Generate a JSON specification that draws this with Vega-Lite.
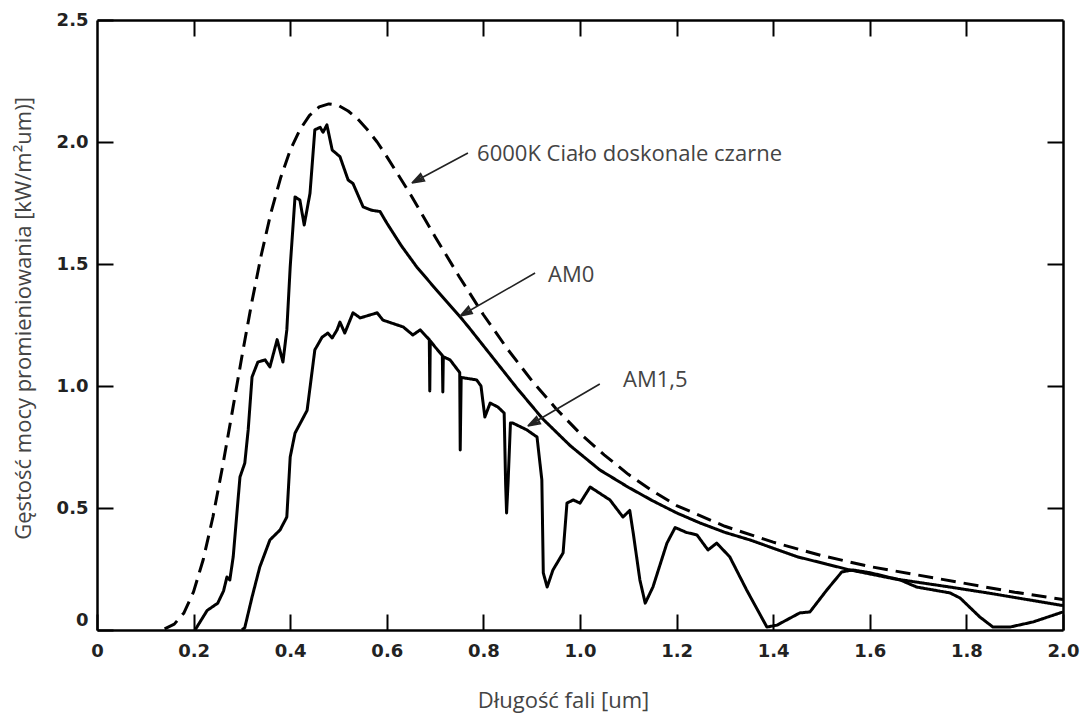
{
  "$schema": "https://vega.github.io/schema/vega-lite/v6.json",
  "width": 966,
  "height": 610,
  "autosize": {"type": "none"},
  "padding": {"left": 97, "top": 20, "right": 24, "bottom": 85},
  "background": "white",
  "config": {
    "view": {"stroke": null},
    "axis": {
      "domainColor": "black",
      "domainWidth": 2.5,
      "tickColor": "black",
      "tickWidth": 2,
      "tickSize": -16,
      "grid": false,
      "labelFont": "DejaVu Sans",
      "labelFontWeight": "bold",
      "labelFontSize": 18,
      "labelColor": "#222222",
      "titleFont": "Open Sans",
      "titleFontWeight": "normal",
      "titleFontSize": 22,
      "titleColor": "#444444"
    }
  },
  "datasets": {
    "curves": [
      {"series": "6000K", "x": 0.14, "y": 0.005},
      {"series": "6000K", "x": 0.16, "y": 0.024},
      {"series": "6000K", "x": 0.18, "y": 0.07},
      {"series": "6000K", "x": 0.2, "y": 0.157},
      {"series": "6000K", "x": 0.22, "y": 0.289},
      {"series": "6000K", "x": 0.24, "y": 0.463},
      {"series": "6000K", "x": 0.26, "y": 0.67},
      {"series": "6000K", "x": 0.28, "y": 0.894},
      {"series": "6000K", "x": 0.3, "y": 1.121},
      {"series": "6000K", "x": 0.32, "y": 1.338},
      {"series": "6000K", "x": 0.34, "y": 1.536},
      {"series": "6000K", "x": 0.36, "y": 1.709},
      {"series": "6000K", "x": 0.38, "y": 1.852},
      {"series": "6000K", "x": 0.4, "y": 1.966},
      {"series": "6000K", "x": 0.42, "y": 2.05},
      {"series": "6000K", "x": 0.44, "y": 2.109},
      {"series": "6000K", "x": 0.46, "y": 2.144},
      {"series": "6000K", "x": 0.48, "y": 2.156},
      {"series": "6000K", "x": 0.5, "y": 2.15},
      {"series": "6000K", "x": 0.52, "y": 2.127},
      {"series": "6000K", "x": 0.54, "y": 2.094},
      {"series": "6000K", "x": 0.56, "y": 2.05},
      {"series": "6000K", "x": 0.58, "y": 2.0},
      {"series": "6000K", "x": 0.6, "y": 1.94},
      {"series": "6000K", "x": 0.65, "y": 1.782},
      {"series": "6000K", "x": 0.7, "y": 1.612},
      {"series": "6000K", "x": 0.75, "y": 1.448},
      {"series": "6000K", "x": 0.8, "y": 1.292},
      {"series": "6000K", "x": 0.85, "y": 1.151},
      {"series": "6000K", "x": 0.9, "y": 1.023},
      {"series": "6000K", "x": 0.95, "y": 0.908},
      {"series": "6000K", "x": 1.0, "y": 0.806},
      {"series": "6000K", "x": 1.05, "y": 0.718},
      {"series": "6000K", "x": 1.1, "y": 0.638},
      {"series": "6000K", "x": 1.15, "y": 0.57},
      {"series": "6000K", "x": 1.2, "y": 0.51},
      {"series": "6000K", "x": 1.3, "y": 0.425},
      {"series": "6000K", "x": 1.4, "y": 0.36},
      {"series": "6000K", "x": 1.5, "y": 0.305},
      {"series": "6000K", "x": 1.6, "y": 0.26},
      {"series": "6000K", "x": 1.7, "y": 0.225},
      {"series": "6000K", "x": 1.8, "y": 0.19},
      {"series": "6000K", "x": 1.9, "y": 0.155},
      {"series": "6000K", "x": 2.0, "y": 0.125},

      {"series": "AM0", "x": 0.203, "y": 0.0},
      {"series": "AM0", "x": 0.228, "y": 0.08},
      {"series": "AM0", "x": 0.25, "y": 0.11},
      {"series": "AM0", "x": 0.262, "y": 0.16},
      {"series": "AM0", "x": 0.269, "y": 0.217},
      {"series": "AM0", "x": 0.275, "y": 0.205},
      {"series": "AM0", "x": 0.282, "y": 0.3},
      {"series": "AM0", "x": 0.296, "y": 0.627},
      {"series": "AM0", "x": 0.306, "y": 0.684},
      {"series": "AM0", "x": 0.313, "y": 0.82},
      {"series": "AM0", "x": 0.321, "y": 1.037},
      {"series": "AM0", "x": 0.333, "y": 1.098},
      {"series": "AM0", "x": 0.348, "y": 1.107},
      {"series": "AM0", "x": 0.358, "y": 1.078},
      {"series": "AM0", "x": 0.373, "y": 1.19},
      {"series": "AM0", "x": 0.385, "y": 1.098},
      {"series": "AM0", "x": 0.393, "y": 1.23},
      {"series": "AM0", "x": 0.4, "y": 1.488},
      {"series": "AM0", "x": 0.41, "y": 1.775},
      {"series": "AM0", "x": 0.42, "y": 1.762},
      {"series": "AM0", "x": 0.429, "y": 1.66},
      {"series": "AM0", "x": 0.441, "y": 1.79},
      {"series": "AM0", "x": 0.451, "y": 2.05},
      {"series": "AM0", "x": 0.462, "y": 2.06},
      {"series": "AM0", "x": 0.468, "y": 2.04},
      {"series": "AM0", "x": 0.476, "y": 2.07},
      {"series": "AM0", "x": 0.487, "y": 1.967},
      {"series": "AM0", "x": 0.503, "y": 1.94},
      {"series": "AM0", "x": 0.52, "y": 1.844},
      {"series": "AM0", "x": 0.53, "y": 1.83},
      {"series": "AM0", "x": 0.551, "y": 1.734},
      {"series": "AM0", "x": 0.569, "y": 1.72},
      {"series": "AM0", "x": 0.586, "y": 1.715},
      {"series": "AM0", "x": 0.6, "y": 1.668},
      {"series": "AM0", "x": 0.63, "y": 1.575},
      {"series": "AM0", "x": 0.662, "y": 1.488},
      {"series": "AM0", "x": 0.7, "y": 1.4},
      {"series": "AM0", "x": 0.731, "y": 1.33},
      {"series": "AM0", "x": 0.752, "y": 1.283},
      {"series": "AM0", "x": 0.77, "y": 1.24},
      {"series": "AM0", "x": 0.8, "y": 1.165},
      {"series": "AM0", "x": 0.834, "y": 1.08},
      {"series": "AM0", "x": 0.87, "y": 0.99},
      {"series": "AM0", "x": 0.923, "y": 0.865},
      {"series": "AM0", "x": 0.98, "y": 0.755},
      {"series": "AM0", "x": 1.041, "y": 0.656},
      {"series": "AM0", "x": 1.1, "y": 0.585},
      {"series": "AM0", "x": 1.15, "y": 0.53},
      {"series": "AM0", "x": 1.2, "y": 0.48},
      {"series": "AM0", "x": 1.248, "y": 0.439},
      {"series": "AM0", "x": 1.3, "y": 0.4},
      {"series": "AM0", "x": 1.352, "y": 0.369},
      {"series": "AM0", "x": 1.45, "y": 0.3},
      {"series": "AM0", "x": 1.559, "y": 0.246},
      {"series": "AM0", "x": 1.65, "y": 0.21},
      {"series": "AM0", "x": 1.766, "y": 0.176},
      {"series": "AM0", "x": 1.85, "y": 0.15},
      {"series": "AM0", "x": 2.0, "y": 0.1},

      {"series": "AM1,5", "x": 0.3, "y": 0.0},
      {"series": "AM1,5", "x": 0.306, "y": 0.01},
      {"series": "AM1,5", "x": 0.321, "y": 0.135},
      {"series": "AM1,5", "x": 0.337, "y": 0.258},
      {"series": "AM1,5", "x": 0.358, "y": 0.369},
      {"series": "AM1,5", "x": 0.379, "y": 0.41},
      {"series": "AM1,5", "x": 0.393, "y": 0.463},
      {"series": "AM1,5", "x": 0.4, "y": 0.709},
      {"series": "AM1,5", "x": 0.41, "y": 0.807},
      {"series": "AM1,5", "x": 0.435, "y": 0.9},
      {"series": "AM1,5", "x": 0.451, "y": 1.148},
      {"series": "AM1,5", "x": 0.466, "y": 1.2},
      {"series": "AM1,5", "x": 0.478, "y": 1.217},
      {"series": "AM1,5", "x": 0.487, "y": 1.197},
      {"series": "AM1,5", "x": 0.497, "y": 1.23},
      {"series": "AM1,5", "x": 0.503, "y": 1.262},
      {"series": "AM1,5", "x": 0.513, "y": 1.217},
      {"series": "AM1,5", "x": 0.53, "y": 1.3},
      {"series": "AM1,5", "x": 0.545, "y": 1.279},
      {"series": "AM1,5", "x": 0.58, "y": 1.3},
      {"series": "AM1,5", "x": 0.592, "y": 1.27},
      {"series": "AM1,5", "x": 0.634, "y": 1.242},
      {"series": "AM1,5", "x": 0.654, "y": 1.209},
      {"series": "AM1,5", "x": 0.669, "y": 1.23},
      {"series": "AM1,5", "x": 0.688, "y": 1.19},
      {"series": "AM1,5", "x": 0.689, "y": 0.98},
      {"series": "AM1,5", "x": 0.69, "y": 1.185},
      {"series": "AM1,5", "x": 0.7, "y": 1.16},
      {"series": "AM1,5", "x": 0.715, "y": 1.125},
      {"series": "AM1,5", "x": 0.716, "y": 0.975},
      {"series": "AM1,5", "x": 0.717, "y": 1.12},
      {"series": "AM1,5", "x": 0.731, "y": 1.107},
      {"series": "AM1,5", "x": 0.751, "y": 1.055},
      {"series": "AM1,5", "x": 0.752, "y": 0.738},
      {"series": "AM1,5", "x": 0.754, "y": 1.035},
      {"series": "AM1,5", "x": 0.786, "y": 1.025},
      {"series": "AM1,5", "x": 0.795, "y": 1.0},
      {"series": "AM1,5", "x": 0.803, "y": 0.873},
      {"series": "AM1,5", "x": 0.814, "y": 0.93},
      {"series": "AM1,5", "x": 0.83, "y": 0.914},
      {"series": "AM1,5", "x": 0.843, "y": 0.889},
      {"series": "AM1,5", "x": 0.846, "y": 0.6},
      {"series": "AM1,5", "x": 0.848, "y": 0.48},
      {"series": "AM1,5", "x": 0.851, "y": 0.6},
      {"series": "AM1,5", "x": 0.856, "y": 0.848},
      {"series": "AM1,5", "x": 0.861, "y": 0.848},
      {"series": "AM1,5", "x": 0.89, "y": 0.82},
      {"series": "AM1,5", "x": 0.911, "y": 0.791},
      {"series": "AM1,5", "x": 0.921, "y": 0.615},
      {"series": "AM1,5", "x": 0.924, "y": 0.234},
      {"series": "AM1,5", "x": 0.932, "y": 0.176},
      {"series": "AM1,5", "x": 0.944, "y": 0.246},
      {"series": "AM1,5", "x": 0.965, "y": 0.316},
      {"series": "AM1,5", "x": 0.973, "y": 0.52},
      {"series": "AM1,5", "x": 0.986, "y": 0.533},
      {"series": "AM1,5", "x": 1.0, "y": 0.52},
      {"series": "AM1,5", "x": 1.021, "y": 0.586},
      {"series": "AM1,5", "x": 1.062, "y": 0.533},
      {"series": "AM1,5", "x": 1.089, "y": 0.463},
      {"series": "AM1,5", "x": 1.103, "y": 0.49},
      {"series": "AM1,5", "x": 1.11, "y": 0.4},
      {"series": "AM1,5", "x": 1.124, "y": 0.205},
      {"series": "AM1,5", "x": 1.135, "y": 0.11},
      {"series": "AM1,5", "x": 1.151, "y": 0.176},
      {"series": "AM1,5", "x": 1.18, "y": 0.356},
      {"series": "AM1,5", "x": 1.197, "y": 0.42},
      {"series": "AM1,5", "x": 1.22, "y": 0.4},
      {"series": "AM1,5", "x": 1.242, "y": 0.39},
      {"series": "AM1,5", "x": 1.265, "y": 0.328},
      {"series": "AM1,5", "x": 1.283, "y": 0.356},
      {"series": "AM1,5", "x": 1.31, "y": 0.3},
      {"series": "AM1,5", "x": 1.345, "y": 0.164},
      {"series": "AM1,5", "x": 1.387, "y": 0.012},
      {"series": "AM1,5", "x": 1.408, "y": 0.02},
      {"series": "AM1,5", "x": 1.455, "y": 0.07},
      {"series": "AM1,5", "x": 1.476, "y": 0.074},
      {"series": "AM1,5", "x": 1.511, "y": 0.164},
      {"series": "AM1,5", "x": 1.542, "y": 0.238},
      {"series": "AM1,5", "x": 1.565, "y": 0.246},
      {"series": "AM1,5", "x": 1.6, "y": 0.235},
      {"series": "AM1,5", "x": 1.663, "y": 0.205},
      {"series": "AM1,5", "x": 1.697, "y": 0.176},
      {"series": "AM1,5", "x": 1.766, "y": 0.152},
      {"series": "AM1,5", "x": 1.787, "y": 0.131},
      {"series": "AM1,5", "x": 1.828, "y": 0.053},
      {"series": "AM1,5", "x": 1.855, "y": 0.012},
      {"series": "AM1,5", "x": 1.89, "y": 0.012},
      {"series": "AM1,5", "x": 1.938, "y": 0.033},
      {"series": "AM1,5", "x": 2.0, "y": 0.074}
    ],
    "arrows": [
      {"arrow": "a1", "i": 0, "x": 0.768, "y": 1.955},
      {"arrow": "a1", "i": 1, "x": 0.652, "y": 1.832},
      {"arrow": "a1", "i": 2, "x": 0.678, "y": 1.841},
      {"arrow": "a1", "i": 3, "x": 0.67, "y": 1.87},
      {"arrow": "a1", "i": 4, "x": 0.652, "y": 1.832},
      {"arrow": "a1", "i": 5, "x": 0.676, "y": 1.848},
      {"arrow": "a1", "i": 6, "x": 0.652, "y": 1.832},
      {"arrow": "a1", "i": 7, "x": 0.672, "y": 1.863},
      {"arrow": "a1", "i": 8, "x": 0.652, "y": 1.832},
      {"arrow": "a2", "i": 0, "x": 0.907, "y": 1.463},
      {"arrow": "a2", "i": 1, "x": 0.752, "y": 1.287},
      {"arrow": "a2", "i": 2, "x": 0.777, "y": 1.297},
      {"arrow": "a2", "i": 3, "x": 0.769, "y": 1.326},
      {"arrow": "a2", "i": 4, "x": 0.752, "y": 1.287},
      {"arrow": "a2", "i": 5, "x": 0.775, "y": 1.304},
      {"arrow": "a2", "i": 6, "x": 0.752, "y": 1.287},
      {"arrow": "a2", "i": 7, "x": 0.771, "y": 1.319},
      {"arrow": "a2", "i": 8, "x": 0.752, "y": 1.287},
      {"arrow": "a3", "i": 0, "x": 1.041, "y": 1.008},
      {"arrow": "a3", "i": 1, "x": 0.892, "y": 0.836},
      {"arrow": "a3", "i": 2, "x": 0.918, "y": 0.846},
      {"arrow": "a3", "i": 3, "x": 0.91, "y": 0.875},
      {"arrow": "a3", "i": 4, "x": 0.892, "y": 0.836},
      {"arrow": "a3", "i": 5, "x": 0.916, "y": 0.853},
      {"arrow": "a3", "i": 6, "x": 0.892, "y": 0.836},
      {"arrow": "a3", "i": 7, "x": 0.912, "y": 0.868},
      {"arrow": "a3", "i": 8, "x": 0.892, "y": 0.836}
    ],
    "labels": [
      {"label": "6000K Ciało doskonale czarne", "x": 0.787, "y": 1.923},
      {"label": "AM0", "x": 0.934, "y": 1.426},
      {"label": "AM1,5", "x": 1.089, "y": 0.996}
    ]
  },
  "layer": [
    {
      "data": {"name": "curves"},
      "mark": {"type": "line", "color": "black", "strokeWidth": 3, "strokeJoin": "round"},
      "encoding": {
        "x": {
          "field": "x", "type": "quantitative",
          "scale": {"domain": [0, 2], "nice": false, "zero": false},
          "axis": {
            "orient": "bottom",
            "values": [0, 0.2, 0.4, 0.6, 0.8, 1.0, 1.2, 1.4, 1.6, 1.8, 2.0],
            "labelExpr": "datum.value == 0 ? '0' : format(datum.value, '.1f')",
            "labelPadding": 28,
            "labelFlush": false,
            "title": "Długość fali [um]",
            "titleX": 466,
            "titleY": 70,
            "titleBaseline": "middle",
            "titleAnchor": null
          }
        },
        "y": {
          "field": "y", "type": "quantitative",
          "scale": {"domain": [0, 2.5], "nice": false, "zero": false},
          "axis": {
            "orient": "left",
            "values": [0, 0.5, 1.0, 1.5, 2.0, 2.5],
            "labelExpr": "datum.value == 0 ? '0' : format(datum.value, '.1f')",
            "labelPadding": 25,
            "labelFlush": false,
            "labelOffset": {"condition": {"test": "datum.value == 0", "value": -10}, "value": 0},
            "title": "Gęstość mocy promieniowania [kW/m²um)]",
            "titleX": -74,
            "titleY": 298,
            "titleAngle": -90,
            "titleBaseline": "middle",
            "titleAlign": "center"
          }
        },
        "detail": {"field": "series", "type": "nominal"},
        "strokeDash": {
          "field": "series", "type": "nominal",
          "scale": {"domain": ["6000K", "AM0", "AM1,5"], "range": [[15, 8], [1, 0], [1, 0]]},
          "legend": null
        }
      }
    },
    {
      "data": {"name": "arrows"},
      "mark": {"type": "line", "color": "#222222", "strokeWidth": 1.6, "strokeJoin": "miter"},
      "encoding": {
        "x": {
          "field": "x", "type": "quantitative",
          "scale": {"domain": [0, 2], "nice": false, "zero": false},
          "axis": {
            "orient": "top",
            "values": [0.2, 0.4, 0.6, 0.8, 1.0, 1.2, 1.4, 1.6, 1.8],
            "labels": false,
            "title": null
          }
        },
        "y": {
          "field": "y", "type": "quantitative",
          "scale": {"domain": [0, 2.5], "nice": false, "zero": false},
          "axis": {
            "orient": "right",
            "values": [0.5, 1.0, 1.5, 2.0],
            "labels": false,
            "title": null
          }
        },
        "detail": {"field": "arrow", "type": "nominal"},
        "order": {"field": "i", "type": "quantitative"}
      }
    },
    {
      "data": {"name": "labels"},
      "mark": {"type": "text", "align": "left", "baseline": "alphabetic", "font": "Open Sans", "fontSize": 22, "color": "#444444"},
      "encoding": {
        "x": {"field": "x", "type": "quantitative", "scale": {"domain": [0, 2], "nice": false, "zero": false}, "axis": null},
        "y": {"field": "y", "type": "quantitative", "scale": {"domain": [0, 2.5], "nice": false, "zero": false}, "axis": null},
        "text": {"field": "label", "type": "nominal"}
      }
    }
  ],
  "resolve": {"axis": {"x": "independent", "y": "independent"}}
}
